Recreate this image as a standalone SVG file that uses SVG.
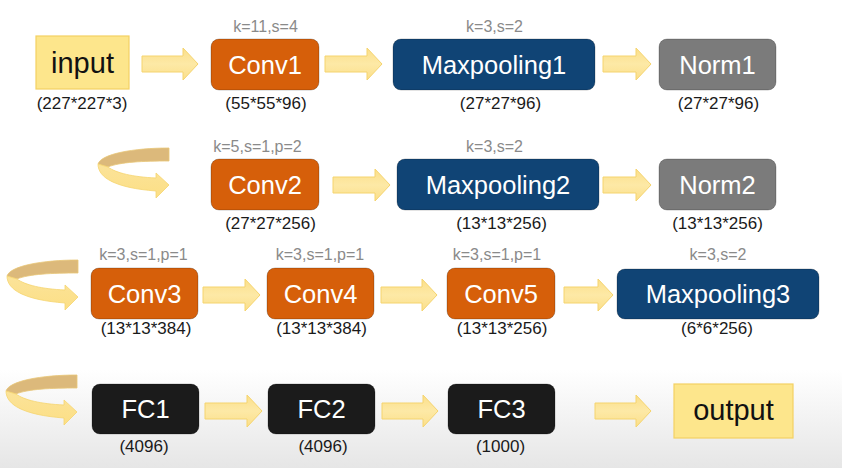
<svg xmlns="http://www.w3.org/2000/svg" xmlns:xlink="http://www.w3.org/1999/xlink" width="842" height="468" viewBox="0 0 842 468">
<style>
  .box { stroke: rgba(0,0,0,0.22); stroke-width: 1; }
  .conv { fill: #d65f0a; }
  .pool { fill: #104475; }
  .norm { fill: #7b7b7b; }
  .fc { fill: #1b1b1b; }
  .io { fill: #fde68c; stroke: #f4d163; stroke-width: 1.2; }
  .lbl { font-family: "Liberation Sans", Arial, sans-serif; font-size: 25.5px; fill: #ffffff; text-anchor: middle; }
  .iolbl { font-family: "Liberation Sans", Arial, sans-serif; font-size: 29px; fill: #111111; text-anchor: middle; }
  .par { font-family: "Liberation Sans", Arial, sans-serif; font-size: 16px; fill: #8a8a8a; text-anchor: middle; }
  .dim { font-family: "Liberation Sans", Arial, sans-serif; font-size: 17px; fill: #1a1a1a; text-anchor: middle; }
  .arr { fill: url(#arrGrad); stroke: #f5d46e; stroke-width: 1; stroke-linejoin: miter; }
  .back { fill: #dcb97b; stroke: #e9c777; stroke-width: 0.8; }
  .front { fill: url(#frontGrad); stroke: #f5d46e; stroke-width: 0.8; }
</style>
<defs>
  <linearGradient id="bg" x1="0" y1="0" x2="0" y2="1">
    <stop offset="0" stop-color="#ffffff"/>
    <stop offset="1" stop-color="#e6e6e6"/>
  </linearGradient>
  <linearGradient id="arrGrad" x1="0" y1="0" x2="0" y2="1">
    <stop offset="0" stop-color="#fbdf8a"/>
    <stop offset="0.5" stop-color="#fde9a6"/>
    <stop offset="1" stop-color="#fbdf8a"/>
  </linearGradient>
  <linearGradient id="frontGrad" x1="0" y1="0" x2="0" y2="1">
    <stop offset="0" stop-color="#fbe39a"/>
    <stop offset="1" stop-color="#fcdf85"/>
  </linearGradient>
  <g id="uturn">
    <path class="back" d="M71,0 L71,13 C45,13 22,14 10,19 L0,16 C3,6 35,0 71,0 Z"/>
    <path class="front" d="M0,16 C0,30 18,40 58,43 L58,50 L71,37 L58,25 L58,30 C35,29 18,25 10,19 Z"/>
  </g>
</defs>
<rect x="0" y="0" width="842" height="468" fill="#ffffff"/>
<rect x="0" y="370" width="842" height="98" fill="url(#bg)"/>

<g id="connectors">
  <path class="arr" d="M142,56 H183 V48 L198,64 L183,80 V72 H142 Z"/>
  <path class="arr" d="M325,56 H367 V48 L382,64 L367,80 V72 H325 Z"/>
  <path class="arr" d="M603,56 H636 V48 L651,64 L636,80 V72 H603 Z"/>
  <path class="arr" d="M333,177 H375 V169 L390,185 L375,201 V193 H333 Z"/>
  <path class="arr" d="M603,177 H636 V169 L651,185 L636,201 V193 H603 Z"/>
  <path class="arr" d="M203,287 H245 V279 L260,295 L245,311 V303 H203 Z"/>
  <path class="arr" d="M381,287 H422 V279 L437,295 L422,311 V303 H381 Z"/>
  <path class="arr" d="M564,287 H598 V279 L613,295 L598,311 V303 H564 Z"/>
  <path class="arr" d="M205,403 H247 V395 L262,411 L247,427 V419 H205 Z"/>
  <path class="arr" d="M382,403 H423 V395 L438,411 L423,427 V419 H382 Z"/>
  <path class="arr" d="M595,403 H636 V395 L651,411 L636,427 V419 H595 Z"/>
  <use xlink:href="#uturn" href="#uturn" transform="translate(98,148)"/>
  <use xlink:href="#uturn" href="#uturn" transform="translate(7,260)"/>
  <use xlink:href="#uturn" href="#uturn" transform="translate(6,375)"/>
</g>

<g id="input">
  <rect class="io" x="36" y="36" width="93" height="53"/>
  <text class="iolbl" x="82.5" y="73">input</text>
  <text class="dim" x="82" y="109">(227*227*3)</text>
</g>
<g id="conv1">
  <text class="par" x="265.5" y="32">k=11,s=4</text>
  <rect class="box conv" x="211" y="39" width="108" height="51" rx="8"/>
  <text class="lbl" x="265" y="74">Conv1</text>
  <text class="dim" x="266" y="109">(55*55*96)</text>
</g>
<g id="maxpooling1">
  <text class="par" x="494.5" y="32">k=3,s=2</text>
  <rect class="box pool" x="393" y="39" width="202" height="51" rx="8"/>
  <text class="lbl" x="494" y="74">Maxpooling1</text>
  <text class="dim" x="500.5" y="109">(27*27*96)</text>
</g>
<g id="norm1">
  <rect class="box norm" x="659" y="39" width="117" height="51" rx="8"/>
  <text class="lbl" x="717.5" y="74">Norm1</text>
  <text class="dim" x="718.5" y="109">(27*27*96)</text>
</g>

<g id="conv2">
  <text class="par" x="257.5" y="152">k=5,s=1,p=2</text>
  <rect class="box conv" x="211" y="159" width="108" height="51" rx="8"/>
  <text class="lbl" x="265" y="194">Conv2</text>
  <text class="dim" x="270.5" y="229">(27*27*256)</text>
</g>
<g id="maxpooling2">
  <text class="par" x="494.5" y="152">k=3,s=2</text>
  <rect class="box pool" x="397" y="159" width="202" height="51" rx="8"/>
  <text class="lbl" x="498" y="194">Maxpooling2</text>
  <text class="dim" x="501.5" y="229">(13*13*256)</text>
</g>
<g id="norm2">
  <rect class="box norm" x="659" y="159" width="117" height="51" rx="8"/>
  <text class="lbl" x="717.5" y="194">Norm2</text>
  <text class="dim" x="717.5" y="229">(13*13*256)</text>
</g>

<g id="conv3">
  <text class="par" x="143.5" y="260">k=3,s=1,p=1</text>
  <rect class="box conv" x="91" y="268" width="107" height="51" rx="8"/>
  <text class="lbl" x="144.5" y="303">Conv3</text>
  <text class="dim" x="146" y="334">(13*13*384)</text>
</g>
<g id="conv4">
  <text class="par" x="320" y="260">k=3,s=1,p=1</text>
  <rect class="box conv" x="267" y="268" width="107" height="51" rx="8"/>
  <text class="lbl" x="320.5" y="303">Conv4</text>
  <text class="dim" x="321.5" y="334">(13*13*384)</text>
</g>
<g id="conv5">
  <text class="par" x="497" y="260">k=3,s=1,p=1</text>
  <rect class="box conv" x="447" y="268" width="108" height="51" rx="8"/>
  <text class="lbl" x="501" y="303">Conv5</text>
  <text class="dim" x="502" y="334">(13*13*256)</text>
</g>
<g id="maxpooling3">
  <text class="par" x="718" y="260">k=3,s=2</text>
  <rect class="box pool" x="617" y="269" width="202" height="50" rx="8"/>
  <text class="lbl" x="718" y="303">Maxpooling3</text>
  <text class="dim" x="717" y="334">(6*6*256)</text>
</g>

<g id="fc1">
  <rect class="box fc" x="92" y="384" width="107" height="50" rx="8"/>
  <text class="lbl" x="145.5" y="418">FC1</text>
  <text class="dim" x="144" y="452">(4096)</text>
</g>
<g id="fc2">
  <rect class="box fc" x="268" y="384" width="107" height="50" rx="8"/>
  <text class="lbl" x="321.5" y="418">FC2</text>
  <text class="dim" x="323" y="452">(4096)</text>
</g>
<g id="fc3">
  <rect class="box fc" x="448" y="384" width="107" height="50" rx="8"/>
  <text class="lbl" x="501.5" y="418">FC3</text>
  <text class="dim" x="500.5" y="452">(1000)</text>
</g>
<g id="output">
  <rect class="io" x="674" y="384" width="119" height="54"/>
  <text class="iolbl" x="733.5" y="420">output</text>
</g>
</svg>
